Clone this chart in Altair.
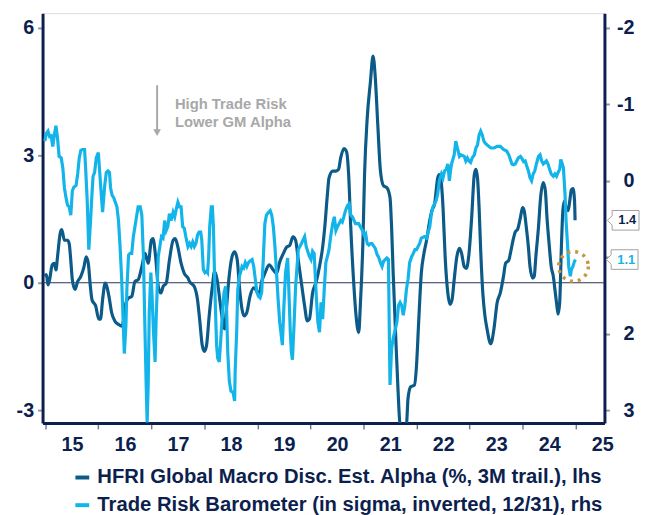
import altair as alt
import pandas as pd

# ---------------- data ----------------
S1 = "HFRI Global Macro Disc. Est. Alpha (%, 3M trail.), lhs"
S2 = "Trade Risk Barometer (in sigma, inverted, 12/31), rhs"

dark_years = [2014.99, 2015.02, 2015.05, 2015.08, 2015.13, 2015.17, 2015.20, 2015.23, 2015.28, 2015.31,
              2015.36, 2015.42, 2015.45, 2015.48, 2015.51, 2015.56, 2015.61, 2015.67, 2015.73, 2015.77,
              2015.81, 2015.85, 2015.88, 2015.95, 2016.01, 2016.04, 2016.08, 2016.13, 2016.20, 2016.25,
              2016.31, 2016.38, 2016.44, 2016.49, 2016.52, 2016.57, 2016.63, 2016.69, 2016.75, 2016.82,
              2016.88, 2016.94, 2017.00, 2017.03, 2017.08, 2017.13, 2017.18, 2017.22, 2017.28, 2017.34,
              2017.41, 2017.45, 2017.50, 2017.56, 2017.62, 2017.69, 2017.72, 2017.81, 2017.87, 2017.91,
              2017.96, 2018.00, 2018.04, 2018.09, 2018.15, 2018.19, 2018.24, 2018.29, 2018.34, 2018.38,
              2018.41, 2018.46, 2018.52, 2018.57, 2018.62, 2018.66, 2018.71, 2018.75, 2018.80, 2018.86,
              2018.93, 2018.99, 2019.03, 2019.08, 2019.14, 2019.22, 2019.30, 2019.36, 2019.42, 2019.49,
              2019.55, 2019.61, 2019.67, 2019.72, 2019.77, 2019.83, 2019.89, 2019.94, 2019.98, 2020.04,
              2020.11, 2020.17, 2020.23, 2020.27, 2020.32, 2020.35, 2020.42, 2020.48, 2020.53, 2020.57,
              2020.63, 2020.68, 2020.72, 2020.76, 2020.82, 2020.86, 2020.91, 2020.94, 2020.99, 2021.02,
              2021.07, 2021.13, 2021.18, 2021.22, 2021.27, 2021.32, 2021.38, 2021.44, 2021.50, 2021.53,
              2021.56, 2021.61, 2021.65, 2021.69, 2021.75, 2021.81, 2021.84, 2021.89, 2021.96, 2022.00,
              2022.04, 2022.09, 2022.14, 2022.19, 2022.25, 2022.29, 2022.34, 2022.40, 2022.43, 2022.47,
              2022.50, 2022.54, 2022.59, 2022.63, 2022.67, 2022.71, 2022.76, 2022.81, 2022.85, 2022.90,
              2022.94, 2022.99, 2023.04, 2023.09, 2023.12, 2023.15, 2023.18, 2023.21, 2023.25, 2023.29,
              2023.33, 2023.40, 2023.46, 2023.52, 2023.58, 2023.64, 2023.68, 2023.74, 2023.77, 2023.82,
              2023.86, 2023.91, 2023.96, 2024.00, 2024.03, 2024.07, 2024.11, 2024.14, 2024.19, 2024.22,
              2024.25, 2024.30, 2024.34, 2024.39, 2024.43, 2024.46, 2024.50, 2024.54, 2024.58, 2024.61,
              2024.64, 2024.67, 2024.70, 2024.73, 2024.76, 2024.79, 2024.82, 2024.86, 2024.89, 2024.92,
              2024.95, 2024.98, 2024.99]
dark_vals = [0.15, 0.19, -0.05, 0.07, 0.42, 0.46, 0.30, 0.61, 1.16, 1.25,
             1.00, 1.00, 0.92, 0.53, 0.07, -0.16, 0.03, 0.15, 0.38, 0.61,
             0.46, -0.09, -0.40, -0.55, -0.86, -0.86, -0.40, -0.01, -0.32, -0.70,
             -0.90, -0.98, -1.02, -0.78, -0.47, -0.36, -0.32, 0.03, 0.07, 0.38,
             0.69, 0.46, 1.00, 1.04, 0.61, -0.09, -0.24, -0.09, -0.01, 0.53,
             1.00, 1.04, 0.84, 0.46, 0.22, 0.11, 0.03, -0.09, -0.40, -0.86,
             -1.48, -1.62, -1.48, -0.78, -0.09, 0.26, 0.07, -0.40, -0.86, -1.09,
             -0.70, 0.07, 0.61, 0.73, 0.53, -0.09, -0.63, -0.78, -0.70, -0.32,
             -0.12, -0.20, -0.28, 0.03, 0.22, 0.42, 0.30, 0.22, 0.49, 0.69,
             0.84, 0.88, 1.08, 1.00, 0.53, -0.01, -0.55, -0.90, -0.86, -0.24,
             0.03, 0.38, 0.84, 1.31, 2.09, 2.47, 2.63, 2.63, 2.67, 2.94,
             3.16, 3.09, 2.55, 1.31, -0.09, -0.78, -1.17, -0.55, 1.00, 2.55,
             3.87, 4.72, 5.34, 4.88, 3.71, 2.63, 2.28, 2.24, 2.01, 1.31,
             0.22, -1.33, -2.49, -3.34, -3.42, -3.34, -2.72, -2.45, -2.41, -1.95,
             -0.94, 0.22, 0.69, 1.00, 1.47, 1.70, 1.85, 2.47, 2.55, 2.32,
             1.77, 0.61, -0.24, -0.51, -0.40, 0.07, 0.61, 0.81, 0.69, 0.38,
             0.34, 0.69, 1.54, 2.55, 2.67, 2.47, 1.77, 0.77, -0.24, -0.78,
             -1.09, -1.44, -1.09, -0.47, -0.24, 0.15, 0.46, 0.53, 0.69, 1.00,
             1.19, 1.27, 1.54, 1.77, 1.70, 1.31, 0.84, 0.38, 0.11, 0.15,
             0.61, 1.31, 2.01, 2.36, 2.16, 1.54, 0.92, 0.38, 0.15, -0.16,
             -0.47, -0.74, -0.47, 0.77, 1.70, 1.93, 1.77, 1.70, 1.93, 2.19,
             2.22, 1.93, 1.47]

light_years = [2014.99, 2015.02, 2015.05, 2015.08, 2015.11, 2015.14, 2015.17, 2015.20, 2015.23, 2015.26,
               2015.30, 2015.33, 2015.36, 2015.39, 2015.42, 2015.45, 2015.48, 2015.51, 2015.54, 2015.58,
               2015.61, 2015.64, 2015.67, 2015.70, 2015.74, 2015.76, 2015.79, 2015.82, 2015.85, 2015.88,
               2015.90, 2015.93, 2015.96, 2016.00, 2016.02, 2016.05, 2016.08, 2016.12, 2016.15, 2016.18,
               2016.21, 2016.23, 2016.26, 2016.29, 2016.32, 2016.35, 2016.38, 2016.41, 2016.44, 2016.47,
               2016.49, 2016.52, 2016.54, 2016.57, 2016.60, 2016.63, 2016.66, 2016.69, 2016.72, 2016.75,
               2016.79, 2016.82, 2016.85, 2016.88, 2016.90, 2016.92, 2016.94, 2016.96, 2016.99, 2017.01,
               2017.04, 2017.07, 2017.09, 2017.13, 2017.16, 2017.19, 2017.22, 2017.25, 2017.28, 2017.31,
               2017.34, 2017.37, 2017.41, 2017.44, 2017.47, 2017.50, 2017.53, 2017.56, 2017.59, 2017.62,
               2017.65, 2017.69, 2017.72, 2017.75, 2017.78, 2017.81, 2017.84, 2017.87, 2017.90, 2017.93,
               2017.95, 2017.98, 2018.01, 2018.04, 2018.06, 2018.08, 2018.10, 2018.13, 2018.15, 2018.17,
               2018.19, 2018.21, 2018.23, 2018.25, 2018.28, 2018.31, 2018.34, 2018.37, 2018.40, 2018.42,
               2018.44, 2018.47, 2018.50, 2018.54, 2018.57, 2018.58, 2018.61, 2018.63, 2018.66, 2018.69,
               2018.71, 2018.74, 2018.77, 2018.80, 2018.83, 2018.86, 2018.90, 2018.93, 2018.96, 2018.99,
               2019.02, 2019.05, 2019.08, 2019.11, 2019.14, 2019.17, 2019.21, 2019.24, 2019.27, 2019.30,
               2019.33, 2019.36, 2019.39, 2019.42, 2019.47, 2019.50, 2019.53, 2019.57, 2019.59, 2019.62,
               2019.64, 2019.66, 2019.69, 2019.72, 2019.77, 2019.83, 2019.89, 2019.92, 2019.98, 2020.01,
               2020.04, 2020.07, 2020.11, 2020.14, 2020.17, 2020.20, 2020.23, 2020.26, 2020.29, 2020.32,
               2020.35, 2020.38, 2020.42, 2020.45, 2020.48, 2020.51, 2020.54, 2020.57, 2020.60, 2020.63,
               2020.66, 2020.70, 2020.73, 2020.76, 2020.79, 2020.85, 2020.91, 2020.98, 2021.01, 2021.04,
               2021.07, 2021.10, 2021.13, 2021.16, 2021.22, 2021.26, 2021.28, 2021.32, 2021.35, 2021.38,
               2021.41, 2021.44, 2021.47, 2021.50, 2021.53, 2021.56, 2021.60, 2021.63, 2021.66, 2021.69,
               2021.72, 2021.75, 2021.78, 2021.81, 2021.84, 2021.87, 2021.91, 2021.94, 2021.97, 2022.00,
               2022.03, 2022.06, 2022.09, 2022.15, 2022.19, 2022.22, 2022.25, 2022.28, 2022.31, 2022.34,
               2022.37, 2022.40, 2022.43, 2022.47, 2022.50, 2022.53, 2022.56, 2022.59, 2022.62, 2022.64,
               2022.66, 2022.71, 2022.74, 2022.77, 2022.81, 2022.84, 2022.90, 2022.93, 2022.96, 2022.99,
               2023.02, 2023.05, 2023.09, 2023.12, 2023.15, 2023.18, 2023.21, 2023.24, 2023.27, 2023.30,
               2023.33, 2023.40, 2023.46, 2023.52, 2023.58, 2023.64, 2023.70, 2023.74, 2023.77, 2023.80,
               2023.83, 2023.86, 2023.89, 2023.92, 2023.96, 2023.99, 2024.02, 2024.05, 2024.08, 2024.11,
               2024.14, 2024.17, 2024.20, 2024.23, 2024.26, 2024.30, 2024.33, 2024.36, 2024.39, 2024.42,
               2024.45, 2024.48, 2024.51, 2024.54, 2024.58, 2024.61, 2024.64, 2024.67, 2024.70, 2024.72,
               2024.74, 2024.77, 2024.80, 2024.82, 2024.85, 2024.87, 2024.90, 2024.92, 2024.95, 2024.98,
               2025.00]
light_vals = [-0.52, -0.62, -0.65, -0.58, -0.59, -0.45, -0.60, -0.72, -0.56, -0.32,
              -0.30, -0.17, 0.09, 0.22, 0.32, 0.34, 0.45, 0.13, 0.08, 0.06,
              -0.09, -0.30, -0.40, -0.41, -0.41, -0.17, 0.26, 0.90, 0.56, 0.17,
              -0.06, -0.11, -0.30, -0.37, -0.17, 0.13, 0.41, 0.06, -0.11, -0.13,
              -0.11, 0.09, 0.19, 0.22, 0.28, 0.34, 0.52, 0.86, 1.29, 1.89,
              2.26, 1.89, 1.38, 0.97, 0.95, 0.95, 0.73, 0.60, 0.47, 0.34,
              0.34, 0.45, 0.99, 1.98, 2.62, 3.16, 2.67, 1.72, 1.20, 1.46,
              1.98, 2.37, 1.81, 0.99, 0.86, 0.73, 0.75, 0.52, 0.65, 0.60,
              0.43, 0.52, 0.41, 0.47, 0.37, 0.28, 0.34, 0.34, 0.60, 0.62,
              0.73, 0.86, 0.82, 0.86, 0.80, 0.86, 0.82, 0.71, 0.67, 0.67,
              0.77, 1.16, 1.20, 1.18, 1.20, 0.99, 0.60, 0.34, 0.34, 0.60,
              1.20, 1.72, 2.15, 2.32, 2.37, 2.06, 1.72, 1.46, 1.38, 1.72,
              2.24, 2.62, 2.75, 2.77, 2.88, 2.49, 1.94, 1.42, 1.25, 1.18,
              1.12, 1.14, 1.07, 1.12, 1.07, 1.05, 1.03, 1.12, 1.29, 1.46,
              1.51, 1.53, 1.46, 1.03, 0.56, 0.45, 0.41, 0.39, 0.45, 0.60,
              0.86, 1.20, 1.55, 1.85, 2.15, 1.63, 1.20, 1.01, 1.38, 1.98,
              2.24, 2.34, 1.89, 1.38, 0.90, 0.82, 0.73, 0.86, 0.99, 1.03,
              0.92, 0.95, 1.51, 1.85, 1.98, 1.59, 1.81, 1.42, 1.07, 0.99,
              0.90, 0.73, 0.56, 0.47, 0.65, 0.60, 0.56, 0.52, 0.54, 0.47,
              0.39, 0.32, 0.30, 0.45, 0.47, 0.56, 0.56, 0.65, 0.71, 0.69,
              0.82, 0.84, 0.82, 0.82, 0.88, 0.97, 0.99, 1.07, 1.12, 1.05,
              1.03, 1.01, 1.03, 2.67, 2.19, 2.06, 1.94, 1.85, 1.63, 1.59,
              1.63, 1.76, 1.63, 1.42, 1.29, 1.07, 0.99, 0.95, 0.90, 0.90,
              0.86, 0.82, 0.75, 0.73, 0.75, 0.67, 0.60, 0.43, 0.34, 0.30,
              0.26, 0.17, 0.00, -0.09, -0.04, -0.13, -0.15, -0.22, 0.00, -0.13,
              -0.22, -0.34, -0.52, -0.43, -0.32, -0.34, -0.32, -0.26, -0.30, -0.26,
              -0.24, -0.30, -0.34, -0.43, -0.47, -0.60, -0.65, -0.60, -0.52, -0.49,
              -0.47, -0.43, -0.43, -0.45, -0.45, -0.41, -0.39, -0.34, -0.28, -0.22,
              -0.21, -0.22, -0.26, -0.30, -0.32, -0.29, -0.25, -0.26, -0.19, -0.13,
              -0.04, 0.00, -0.09, -0.13, -0.22, -0.32, -0.34, -0.26, -0.22, -0.24,
              -0.26, -0.22, -0.15, -0.09, -0.06, -0.09, -0.06, -0.11, -0.15, -0.28,
              -0.24, -0.17, 0.17, 0.52, 0.86, 1.12, 1.25, 1.16, 1.12, 1.05,
              1.03]

x_ticks = [2015, 2016, 2017, 2018, 2019, 2020, 2021, 2022, 2023, 2024, 2025]
left_ticks = [-3, 0, 3, 6]
right_ticks = [-2, -1, 0, 1, 2, 3]

note_line1 = "High Trade Risk"
note_line2 = "Lower GM Alpha"
highlight_year = [2024.96]
highlight_val = [1.12]

# ---------------- styling ----------------
NAVY = "#0c1f4e"
DARK = "#0b5a88"
LIGHT = "#12b4ea"
GREY = "#a8a8a8"
TICK = "#8c96a8"
FONT = "Liberation Sans"

W, H = 569, 415

dark_df = pd.DataFrame({"year": dark_years, "value": dark_vals, "series": S1})
light_df = pd.DataFrame({"year": light_years, "value": light_vals, "series": S2})
zero_df = pd.DataFrame({"z": [0]})
last_dark = pd.DataFrame({"value": [dark_vals[-1]], "label": ["1.4"]})
last_light = pd.DataFrame({"value": [light_vals[-1]], "label": ["1.1"]})
circ_df = pd.DataFrame({"year": highlight_year, "value": highlight_val})

xscale = alt.Scale(domain=[2014.948, 2025.544], nice=False, zero=False)
yleft = alt.Scale(domain=[-3.302, 6.349], nice=False, zero=False)
yright = alt.Scale(domain=[-2.194, 3.168], nice=False, zero=False, reverse=True)

common_axis = dict(
    title=None, grid=False, domainColor=NAVY, domainWidth=3,
    tickColor=TICK, tickWidth=2, labelFont=FONT, labelFontWeight="bold",
    labelFontSize=20, labelColor=NAVY,
)
xaxis = alt.Axis(
    values=x_ticks, title=None, grid=False, domainColor=NAVY, domainWidth=3,
    tickColor="#6f7a92", tickWidth=1.5, tickSize=6, labelFont=FONT,
    labelFontWeight="bold", labelFontSize=20, labelColor=NAVY,
    labelExpr="substring(toString(datum.value), 2, 4)", labelOffset=27,
    labelPadding=6, labelFlush=False, labelOverlap=False, labelBound=False,
)
left_axis = alt.Axis(values=left_ticks, orient="left", tickSize=5, labelPadding=4,
                     labelExpr="replace(datum.label, '\u2212', '-')", **common_axis)
# the "1" label on the right axis is hidden behind the 1.1 call-out in the reference
right_axis = alt.Axis(values=right_ticks, orient="right", tickSize=5, labelPadding=25,
                      labelAlign="right",
                      labelExpr="datum.value == 1 ? '' : replace(datum.label, '\u2212', '-')",
                      **common_axis)

color = alt.Color(
    "series:N",
    scale=alt.Scale(domain=[S1, S2], range=[DARK, LIGHT]),
    legend=alt.Legend(
        orient="none", legendX=30, legendY=460, direction="vertical", title=None,
        symbolType="stroke", symbolStrokeWidth=4, symbolSize=196,
        labelFont=FONT, labelFontWeight="bold", labelFontSize=20.5, labelColor=NAVY,
        labelLimit=1000, rowPadding=7, symbolOffset=0, padding=0, labelOffset=5,
    ),
)

X = alt.X("year:Q", scale=xscale, axis=xaxis)

zero = alt.Chart(zero_df).mark_rule(color="#2b3656", strokeWidth=1.2).encode(
    y=alt.Y("z:Q", scale=yleft, axis=left_axis)
)
dark = alt.Chart(dark_df).mark_line(strokeWidth=3.2, interpolate="monotone", clip=True).encode(
    x=X, y=alt.Y("value:Q", scale=yleft, axis=left_axis), color=color
)
call_path = "M -1 0 L -0.7 -0.3 L -0.7 -0.62 L 1 -0.62 L 1 0.62 L -0.7 0.62 L -0.7 0.3 Z"
dark_box = alt.Chart(last_dark).mark_point(
    shape=call_path, size=1024, filled=True, fill="white", stroke="#a0a0a0",
    strokeWidth=1, opacity=1, clip=False,
).encode(x=alt.value(588), y=alt.Y("value:Q", scale=yleft, axis=left_axis))
dark_txt = alt.Chart(last_dark).mark_text(
    font=FONT, fontWeight="bold", fontSize=13, color=NAVY, align="center", baseline="middle"
).encode(x=alt.value(592), y=alt.Y("value:Q", scale=yleft, axis=left_axis), text="label:N")

light = alt.Chart(light_df).mark_line(strokeWidth=3.2, clip=True).encode(
    x=X, y=alt.Y("value:Q", scale=yright, axis=right_axis), color=color
)
circ = alt.Chart(circ_df).mark_point(
    shape="circle", size=900, filled=False, stroke="#c8963e", strokeWidth=3.5,
    strokeDash=[3, 5], opacity=1,
).encode(x=X, y=alt.Y("value:Q", scale=yright, axis=right_axis))
light_box = alt.Chart(last_light).mark_point(
    shape=call_path, size=1024, filled=True, fill="white", stroke="#a0a0a0",
    strokeWidth=1, opacity=1, clip=False,
).encode(x=alt.value(587), y=alt.Y("value:Q", scale=yright, axis=right_axis))
light_txt = alt.Chart(last_light).mark_text(
    font=FONT, fontWeight="bold", fontSize=13, color=LIGHT, align="center", baseline="middle"
).encode(x=alt.value(591), y=alt.Y("value:Q", scale=yright, axis=right_axis), text="label:N")

# annotation (arrow + text)
arrow = alt.Chart(zero_df).mark_rule(color=GREY, strokeWidth=2).encode(
    x=alt.value(116), y=alt.value(73), y2=alt.value(120)
)
arrow_head = alt.Chart(zero_df).mark_point(
    shape="triangle-down", size=60, filled=True, color=GREY, opacity=1
).encode(x=alt.value(116), y=alt.value(121))
note1 = alt.Chart(zero_df).mark_text(
    font=FONT, fontWeight="bold", fontSize=15, color=GREY, align="left", baseline="middle",
    text=note_line1,
).encode(x=alt.value(134), y=alt.value(92))
note2 = alt.Chart(zero_df).mark_text(
    font=FONT, fontWeight="bold", fontSize=15, color=GREY, align="left", baseline="middle",
    text=note_line2,
).encode(x=alt.value(134), y=alt.value(110))

left_group = alt.layer(zero, dark, dark_box, dark_txt)
right_group = alt.layer(light, circ, light_box, light_txt)

chart = alt.layer(left_group, right_group, arrow, arrow_head, note1, note2).resolve_scale(
    y="independent"
).properties(
    width=W, height=H,
    padding={"left": 35, "top": 2, "right": 36, "bottom": 90},
    autosize=alt.AutoSizeParams(type="none"),
).configure_view(stroke=None).configure(background="white")

chart.save("out.html", embed_options={"renderer": "svg", "actions": False})
